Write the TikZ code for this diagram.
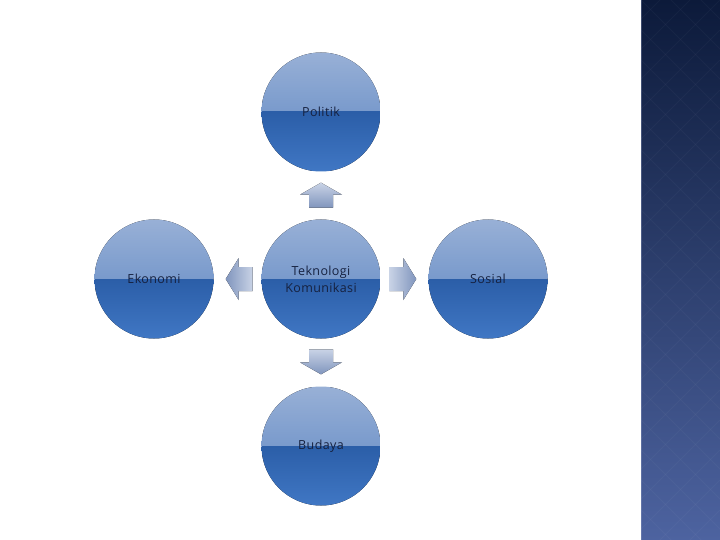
\documentclass[tikz,border=0pt]{standalone}
\usepackage{fontspec}
\setmainfont{Open Sans}[LetterSpace=3]
\usetikzlibrary{calc}
\definecolor{topA}{HTML}{98B0D6}
\definecolor{topB}{HTML}{5A84C2}
\definecolor{botA}{HTML}{2B5EA8}
\definecolor{botB}{HTML}{4077C4}
\definecolor{txt}{HTML}{16213F}
\definecolor{arA}{HTML}{C9D3E6}
\definecolor{arB}{HTML}{8095BD}
\definecolor{panA}{HTML}{0C1A3A}
\definecolor{panB}{HTML}{4D63A0}
\tikzset{
  ball/.style={circle, minimum size=119pt, inner sep=0pt, align=center,
    text=txt, font=\fontsize{12.5}{17}\selectfont,
    path picture={
      \fill[top color=topA, bottom color=topB]
        (path picture bounding box.north west) rectangle (path picture bounding box.east);
      \fill[top color=botA, bottom color=botB]
        (path picture bounding box.west) rectangle (path picture bounding box.south east);
    }}
}
\begin{document}
\begin{tikzpicture}[x=1pt,y=-1pt]
\useasboundingbox (0,0) rectangle (720,540);
\fill[white] (0,0) rectangle (720,540);
% right panel
\fill[top color=panA, bottom color=panB] (641,0) rectangle (720,540);
\begin{scope}
\clip (641,0) rectangle (720,540);
\foreach \k in {-600,-570,...,600} {
  \draw[white, opacity=0.03, line width=0.8pt] (641,\k) -- ++(540,540);
  \draw[white, opacity=0.03, line width=0.8pt] (720,\k) -- ++(-540,540);
}
\end{scope}
\draw[color=panB!60!white, opacity=0.35, line width=0.8pt] (641.5,0) -- (641.5,540);

% circles
\node[ball] (pol) at (321,112) {Politik};
\node[ball] (tek) at (321,279) {Teknologi\\Komunikasi};
\node[ball] (eko) at (154,279) {Ekonomi};
\node[ball] (sos) at (488,279) {Sosial};
\node[ball] (bud) at (321,446) {Budaya};

% block arrows
% up
\fill[top color=arA, bottom color=arB] ($(pol.south)+(0,11)$) -- ++(21,12) -- ++(-9,0) -- ++(0,13) -- ++(-24,0) -- ++(0,-13) -- ++(-9,0) -- cycle;
% down
\fill[top color=arA, bottom color=arB] ($(bud.north)+(0,-12)$) -- ++(21,-12) -- ++(-9,0) -- ++(0,-13) -- ++(-24,0) -- ++(0,13) -- ++(-9,0) -- cycle;
% left
\fill[left color=arB, right color=arA] ($(eko.east)+(12,0)$) -- ++(13,-21) -- ++(0,9) -- ++(14,0) -- ++(0,24) -- ++(-14,0) -- ++(0,9) -- cycle;
% right
\fill[left color=arA, right color=arB] ($(sos.west)+(-12,0)$) -- ++(-13,-21) -- ++(0,9) -- ++(-14,0) -- ++(0,24) -- ++(14,0) -- ++(0,9) -- cycle;
\end{tikzpicture}
\end{document}
